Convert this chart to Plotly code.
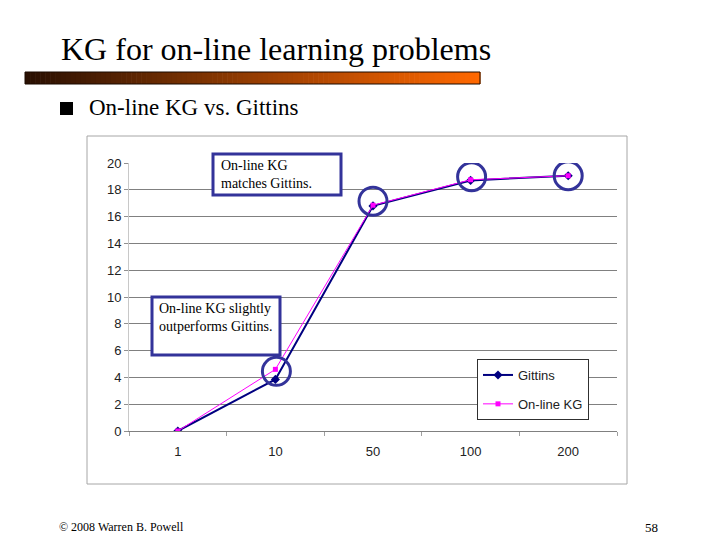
import plotly.graph_objects as go

categories = ["1", "10", "50", "100", "200"]
gittins = [0, 3.85, 16.8, 18.7, 19.05]
online_kg = [0, 4.6, 16.85, 18.75, 19.05]
y_ticks = list(range(0, 21, 2))
circled = ["10", "50", "100", "200"]

W, H = 720, 540
L, R, T, B = 129, 617, 163, 431


def px(x):
    return (x - L) / (R - L)


def py(y):
    return (B - y) / (B - T)


fig = go.Figure()
fig.add_trace(go.Scatter(
    x=categories, y=gittins, name="Gittins", mode="lines+markers",
    line=dict(color="#000080", width=2),
    marker=dict(symbol="diamond", size=7, color="#000080"),
    legendgroup="g"))
fig.add_trace(go.Scatter(
    x=categories, y=online_kg, name="On-line KG", mode="lines+markers",
    line=dict(color="#FF00FF", width=1),
    marker=dict(symbol="square", size=5, color="#FF00FF"),
    legendgroup="k"))

shapes = []
# outer chart frame
shapes.append(dict(type="rect", xref="paper", yref="paper",
                   x0=px(87), x1=px(627), y0=py(484), y1=py(136),
                   line=dict(color="#a6a6a6", width=1), layer="below"))
# gradient bar under the title
n = 90
c0 = (0x2a, 0x10, 0x02)
c1 = (0xff, 0x68, 0x00)
x_start, x_end = 25, 480
for i in range(n):
    t = i / (n - 1)
    col = tuple(int(round(c0[k] + (c1[k] - c0[k]) * t)) for k in range(3))
    xa = x_start + (x_end - x_start) * i / n
    xb = x_start + (x_end - x_start) * (i + 1) / n + 0.6
    shapes.append(dict(type="rect", xref="paper", yref="paper",
                       x0=px(xa), x1=px(xb), y0=py(84), y1=py(72),
                       fillcolor="rgb(%d,%d,%d)" % col, line=dict(width=0)))
shapes.append(dict(type="rect", xref="paper", yref="paper",
                   x0=px(x_start), x1=px(x_end), y0=py(84), y1=py(72),
                   line=dict(color="#1a0a00", width=1)))
# bullet square
shapes.append(dict(type="rect", xref="paper", yref="paper",
                   x0=px(60), x1=px(73), y0=py(115), y1=py(102),
                   fillcolor="black", line=dict(width=0)))
# annotation boxes
box_col = "#33339a"
shapes.append(dict(type="rect", xref="paper", yref="paper",
                   x0=px(213), x1=px(341), y0=py(195), y1=py(154),
                   line=dict(color=box_col, width=3), fillcolor="white"))
shapes.append(dict(type="rect", xref="paper", yref="paper",
                   x0=px(152), x1=px(280), y0=py(355), y1=py(297),
                   line=dict(color=box_col, width=3), fillcolor="white"))
# circles around points
offsets = {"10": (1, -2), "50": (0, 4), "100": (1, 3), "200": (0, 0)}
for c in circled:
    i = categories.index(c)
    dx, dy = offsets[c]
    shapes.append(dict(type="circle", xref="x", yref="y",
                       xsizemode="pixel", ysizemode="pixel",
                       xanchor=i, yanchor=online_kg[i],
                       x0=dx - 14, x1=dx + 14, y0=dy - 14, y1=dy + 14,
                       line=dict(color=box_col, width=3)))

serif = "Liberation Serif"
annotations = [
    dict(text="KG for on-line learning problems", x=px(59), y=py(49),
         xanchor="left", yanchor="middle", font=dict(family=serif, size=32, color="black")),
    dict(text="On-line KG vs. Gittins", x=px(87), y=py(108),
         xanchor="left", yanchor="middle", font=dict(family=serif, size=23, color="black")),
    dict(text="On-line KG<br>matches Gittins.", x=px(219), y=py(156),
         xanchor="left", yanchor="top", align="left",
         font=dict(family=serif, size=14, color="black")),
    dict(text="On-line KG slightly<br>outperforms Gittins.", x=px(157), y=py(299),
         xanchor="left", yanchor="top", align="left",
         font=dict(family=serif, size=14, color="black")),
    dict(text="© 2008 Warren B. Powell", x=px(57), y=py(527),
         xanchor="left", yanchor="middle", font=dict(family=serif, size=12, color="black")),
    dict(text="58", x=px(660), y=py(527),
         xanchor="right", yanchor="middle", font=dict(family=serif, size=13, color="black")),
]
for a in annotations:
    a.update(xref="paper", yref="paper", showarrow=False)

fig.update_layout(
    width=W, height=H,
    margin=dict(l=L, r=W - R, t=T, b=H - B, pad=0),
    paper_bgcolor="white", plot_bgcolor="white",
    font=dict(family="Liberation Sans", size=13, color="#222222"),
    shapes=shapes, annotations=annotations,
    showlegend=True,
    legend=dict(x=px(477), y=py(359), xanchor="left", yanchor="top",
                bordercolor="#303030", borderwidth=1, bgcolor="white",
                font=dict(family="Liberation Sans", size=13, color="#222222"),
                tracegroupgap=9, itemwidth=30),
    xaxis=dict(type="category", categoryorder="array", categoryarray=categories,
               range=[-0.5, len(categories) - 0.5],
               showgrid=False, showline=True, linecolor="#808080", linewidth=1,
               ticks="outside", tickson="boundaries", ticklen=4, tickcolor="#a0a0a0",
               ticklabelstandoff=8, zeroline=False, fixedrange=True),
    yaxis=dict(range=[0, 20], tickvals=y_ticks, showgrid=True, gridcolor="#808080",
               gridwidth=1, showline=True, linecolor="#c8c8c8", linewidth=1,
               ticks="outside", ticklen=4, tickcolor="#909090", zeroline=False,
               fixedrange=True),
)

fig.write_html("out.html")
